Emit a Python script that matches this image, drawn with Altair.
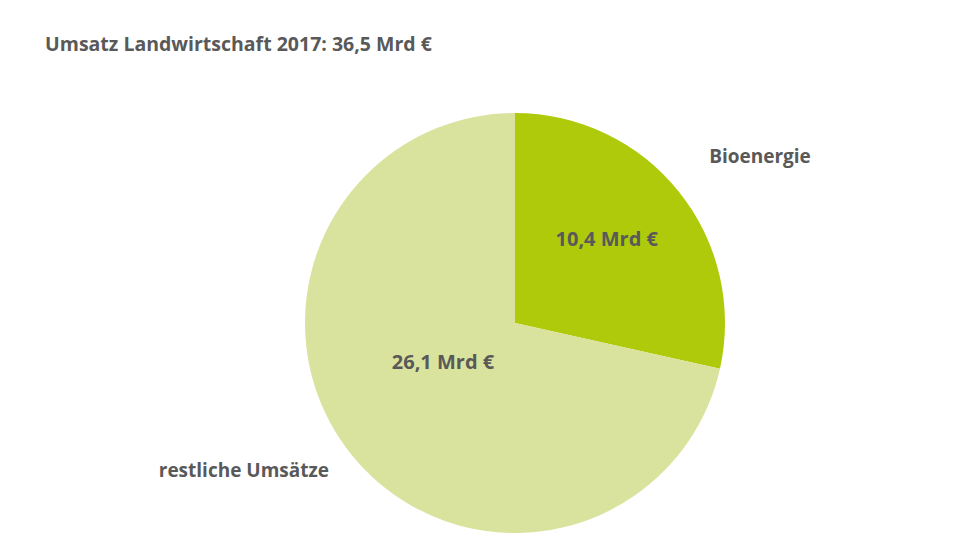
import altair as alt
import pandas as pd

title_text = "Umsatz Landwirtschaft 2017: 36,5 Mrd €"
categories = ["Bioenergie", "restliche Umsätze"]
values = [10.4, 26.1]
value_labels = ["10,4 Mrd €", "26,1 Mrd €"]
order = [1, 2]
colors = ["#AFCA0B", "#D9E39D"]

df = pd.DataFrame({"cat": categories, "value": values, "vlabel": value_labels, "ord": order})

FONT = "Open Sans"
TXT = "#595959"
CX, CY, R = 507, 245, 210

base = alt.Chart(df)

pie = base.mark_arc(radius=R, stroke=None).encode(
    theta=alt.Theta("value:Q", stack=True),
    order=alt.Order("ord:Q"),
    color=alt.Color("cat:N", scale=alt.Scale(domain=categories, range=colors), legend=None),
    x=alt.value(CX), y=alt.value(CY),
)

lab = (
    base.transform_window(cum="sum(value)", sort=[alt.SortField("ord")])
    .transform_joinaggregate(total="sum(value)")
    .transform_calculate(ang="2*PI*(datum.cum - datum.value/2)/datum.total")
)

def label(cat, field, radius, dx, dy, size):
    return lab.transform_filter(alt.datum.cat == cat).mark_text(
        radius=radius, dx=dx, dy=dy, font=FONT, fontSize=size, fontWeight="bold",
        color=TXT, align="center", baseline="middle",
    ).encode(
        theta=alt.Theta("ang:Q", scale=None),
        text=alt.Text(field + ":N"),
        x=alt.value(CX), y=alt.value(CY),
    )

layers = [
    pie,
    label("Bioenergie", "vlabel", 124, -5, -5, 20),
    label("restliche Umsätze", "vlabel", 82, -8, -11, 20),
    label("Bioenergie", "cat", 296, 14, 19, 19),
    label("restliche Umsätze", "cat", 309, -30, -45, 19),
]

chart = alt.layer(*layers).properties(
    width=944, height=474,
    autosize=alt.AutoSizeParams(type="none"),
    padding={"top": 70, "left": 0, "right": 0, "bottom": 0},
    title=alt.TitleParams(
        title_text, anchor="start", frame="group", dx=37, offset=23,
        font=FONT, fontSize=19.5, fontWeight="bold", color=TXT,
    ),
).configure_view(stroke=None)

chart.save("out.html", embed_options={"renderer": "svg", "actions": False})
